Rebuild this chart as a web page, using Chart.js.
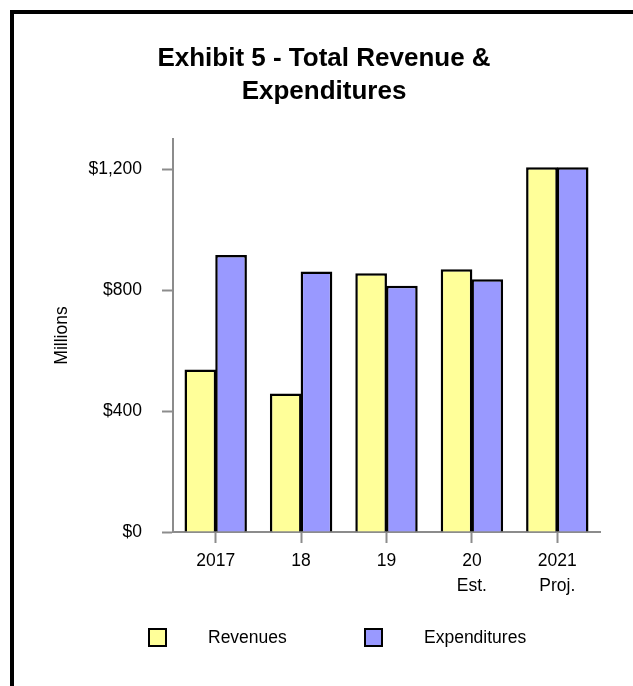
<!DOCTYPE html>
<html>
<head>
<meta charset="utf-8">
<script src="https://cdn.jsdelivr.net/npm/chart.js@4.4.0/dist/chart.umd.min.js"></script>
<style>
  html, body { margin: 0; padding: 0; background: #fff; overflow: hidden; }
  #wrap { position: relative; width: 633px; height: 686px; }
  #frame {
    position: absolute; left: 10px; top: 10px; width: 700px; height: 760px;
    border-left: 4px solid #000; border-top: 4px solid #000;
  }
  canvas { position: absolute; left: 0; top: 0; }
  #legend { position: absolute; left: 0; top: 0; font-family: 'Liberation Sans', Arial, sans-serif; font-size: 17.5px; color: #000; }
  .item { position: absolute; top: 628px; height: 19px; }
  .box { position: absolute; left: 0; top: 0; width: 15px; height: 15px; border: 2px solid #000; }
  .lbl { position: absolute; top: -1px; line-height: 21px; white-space: nowrap; }
</style>
</head>
<body>
<div id="wrap">
  <div id="frame"></div>
  <canvas id="chart" width="633" height="686"></canvas>
  <div id="legend"></div>
</div>
<script>
const years = [['2017'], ['18'], ['19'], ['20', 'Est.'], ['2021', 'Proj.']];
const revenues = [538, 458, 856, 869, 1207];
const expenditures = [916, 862, 815, 836, 1207];
const yTicks = [0, 400, 800, 1200];

const fontFamily = "'Liberation Sans', Arial, sans-serif";
const gray = '#8c8c8c';

const chart = new Chart(document.getElementById('chart').getContext('2d'), {
  type: 'bar',
  data: {
    labels: years,
    datasets: [
      { label: 'Revenues', data: revenues, backgroundColor: '#ffff99', borderColor: '#000', borderWidth: 2.5 },
      { label: 'Expenditures', data: expenditures, backgroundColor: '#9999ff', borderColor: '#000', borderWidth: 2.5 }
    ]
  },
  options: {
    responsive: false,
    animation: false,
    categoryPercentage: 0.72,
    barPercentage: 1.03,
    layout: { padding: { left: 48, right: 33, top: 0, bottom: 84 } },
    plugins: {
      legend: { display: false },
      tooltip: { enabled: false },
      title: {
        display: true,
        text: ['Exhibit 5 - Total Revenue &', 'Expenditures'],
        color: '#000',
        font: { family: fontFamily, size: 26, weight: 'bold', lineHeight: 1.27 },
        padding: { top: 42, bottom: 31 }
      }
    },
    scales: {
      x: {
        grid: { display: true, drawOnChartArea: false, offset: false, tickLength: 11, tickWidth: 2, tickColor: gray },
        border: { display: true, color: gray, width: 2 },
        ticks: { color: '#000', padding: 6, font: { family: fontFamily, size: 17.5, lineHeight: 1.4 } },
        afterFit: s => { s.height = 70; }
      },
      y: {
        min: 0,
        max: 1300,
        grid: { display: true, drawOnChartArea: false, tickLength: 11, tickWidth: 2, tickColor: gray },
        border: { display: true, color: gray, width: 2 },
        ticks: {
          color: '#000',
          padding: 20,
          stepSize: 400,
          font: { family: fontFamily, size: 17.5 },
          callback: v => '$' + v.toLocaleString('en-US')
        },
        afterBuildTicks: s => { s.ticks = yTicks.map(v => ({ value: v })); },
        title: {
          display: true,
          text: 'Millions',
          color: '#000',
          font: { family: fontFamily, size: 17.5, lineHeight: 1.2 },
          padding: { top: 3.5, bottom: 0 }
        },
        afterFit: s => { s.width = 125; }
      }
    }
  }
});

// legend built from the datasets
const legendPos = [[148, 208], [364, 424]];
const legend = document.getElementById('legend');
chart.data.datasets.forEach((ds, i) => {
  const item = document.createElement('div');
  item.className = 'item';
  item.style.left = legendPos[i][0] + 'px';
  item.innerHTML = `<div class="box" style="background:${ds.backgroundColor}"></div>` +
    `<span class="lbl" style="left:${legendPos[i][1] - legendPos[i][0]}px">${ds.label}</span>`;
  legend.appendChild(item);
});
</script>
</body>
</html>
